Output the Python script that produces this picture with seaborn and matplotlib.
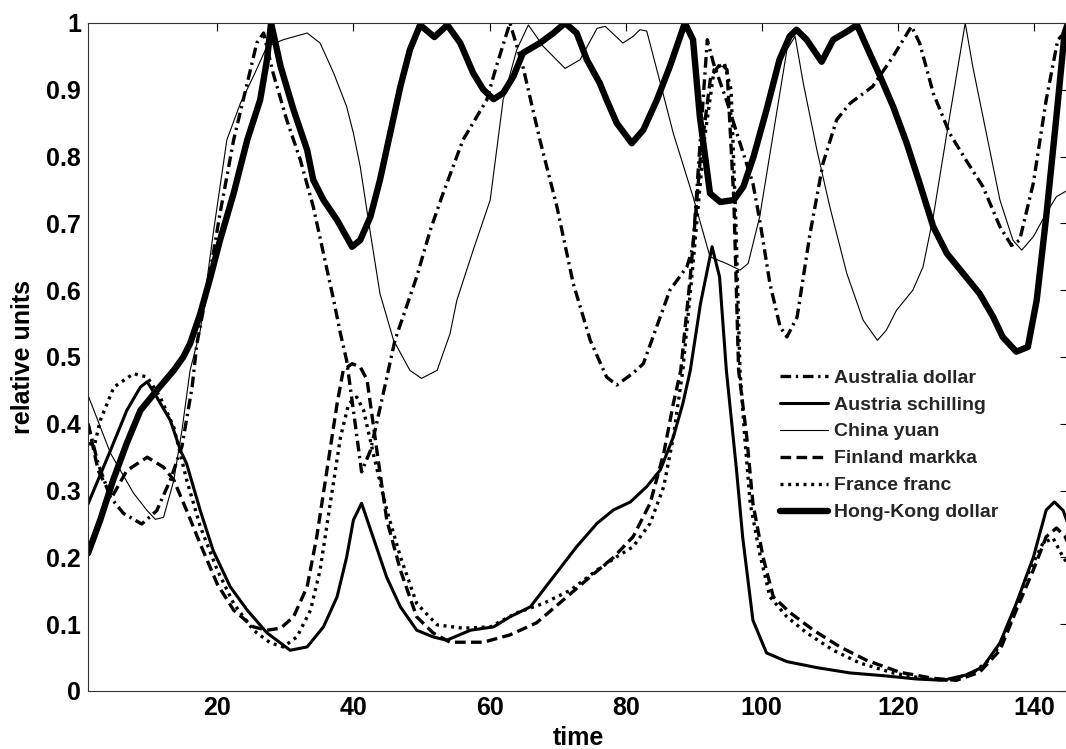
import matplotlib
matplotlib.use("Agg")
import matplotlib.pyplot as plt
import seaborn as sns
import pandas as pd

# ---------------- data ----------------
series_names = ["Australia dollar", "Austria schilling", "China yuan",
                "Finland markka", "France franc", "Hong-Kong dollar"]

aud_t = [1, 2.5, 4.3, 6.2, 8.9, 11.1, 13.1, 14.8, 16.3, 17, 18.5, 20.4, 22.4, 24.4, 25.8, 26.8,
         28.2, 30.2, 32.2, 34.1, 35.6, 37.1, 38.1, 39, 40, 41.2, 42.5, 43.4, 44.7, 46.1, 49.3, 51.3,
         53, 56.1, 59.6, 61, 63, 64.9, 67.4, 69.9, 72.3, 74.8, 77.2, 78.7, 81.1, 82.6, 86.5, 89,
         89.9, 90.8, 92, 92.9, 94.8, 96.5, 98.7, 99.7, 101.2, 102.7, 103.7, 105.2, 107.1, 109, 111,
         113, 116.3, 119.3, 122, 123.2, 125.2, 127.6, 130, 132.5, 135, 136.7, 137.9, 139.9, 141.8,
         143.5, 145]
aud_v = [0.40, 0.34, 0.29, 0.266, 0.25, 0.27, 0.316, 0.366, 0.455, 0.52, 0.60, 0.715, 0.825, 0.91,
         0.97, 0.985, 0.925, 0.855, 0.795, 0.725, 0.655, 0.585, 0.535, 0.495, 0.42, 0.328, 0.36,
         0.40, 0.46, 0.525, 0.62, 0.69, 0.74, 0.825, 0.885, 0.935, 1.0, 0.935, 0.825, 0.725, 0.61,
         0.525, 0.47, 0.458, 0.476, 0.49, 0.60, 0.635, 0.665, 0.80, 0.975, 0.94, 0.885, 0.83, 0.76,
         0.705, 0.61, 0.545, 0.53, 0.56, 0.685, 0.79, 0.855, 0.88, 0.905, 0.95, 0.995, 0.97, 0.895,
         0.835, 0.795, 0.755, 0.695, 0.667, 0.675, 0.76, 0.885, 0.975, 0.99]

ats_t = [1, 4.3, 6.7, 8.7, 9.7, 11.1, 13.1, 14.6, 15.5, 17.5, 19.4, 21.9, 24.4, 27.3, 30.7, 33.2,
         35.6, 37.6, 39, 40, 41.2, 42.9, 44.9, 46.9, 49.3, 51.7, 53.7, 57.2, 60.6, 63, 66, 69.4,
         72.8, 75.8, 78.2, 80.7, 83.1, 85.1, 87, 88.4, 89.5, 91, 92.7, 93.8, 94.8, 96.3, 97.2, 98.7,
         100.7, 103.7, 108.1, 113, 117.8, 122.7, 126.6, 130, 132.5, 135, 137.4, 139.9, 141.8, 143,
         144.3, 145]
ats_v = [0.28, 0.36, 0.42, 0.455, 0.463, 0.44, 0.405, 0.36, 0.34, 0.27, 0.21, 0.156, 0.121, 0.087,
         0.061, 0.066, 0.096, 0.141, 0.20, 0.256, 0.281, 0.23, 0.17, 0.126, 0.091, 0.081, 0.076,
         0.091, 0.096, 0.111, 0.126, 0.171, 0.216, 0.251, 0.271, 0.283, 0.306, 0.331, 0.38, 0.43,
         0.48, 0.58, 0.665, 0.62, 0.48, 0.33, 0.23, 0.106, 0.057, 0.044, 0.035, 0.027, 0.023, 0.018,
         0.016, 0.024, 0.036, 0.072, 0.131, 0.20, 0.271, 0.283, 0.27, 0.25]

cny_t = [1, 4.3, 7.7, 9.7, 10.9, 12.1, 13.6, 14.8, 16, 17.5, 19.4, 21.4, 23.4, 25.3, 27.3, 29.7,
         33.2, 35.1, 37.1, 39, 40, 41, 42.5, 43.9, 45.9, 48.3, 50, 52.3, 54.2, 55.2, 57.6, 60.1, 62,
         64, 65.7, 67.9, 71.1, 73.3, 75.8, 77, 79.6, 81.1, 82.1, 83.1, 85.1, 87, 89.9, 92.4, 94.8,
         96.8, 98, 99.7, 101.7, 103.7, 104.9, 106.1, 108.1, 110, 112.5, 114.9, 117, 118.3, 119.8,
         122.2, 123.7, 125.2, 127.2, 129, 129.9, 131, 133, 135, 136.9, 138.2, 139.9, 141.8, 143.3,
         145]
cny_v = [0.443, 0.356, 0.296, 0.27, 0.257, 0.26, 0.315, 0.39, 0.48, 0.54, 0.685, 0.825, 0.88, 0.92,
         0.965, 0.975, 0.985, 0.97, 0.925, 0.875, 0.835, 0.785, 0.685, 0.595, 0.525, 0.48, 0.468,
         0.48, 0.535, 0.585, 0.66, 0.735, 0.885, 0.96, 0.997, 0.965, 0.932, 0.945, 0.992, 0.995,
         0.97, 0.98, 0.99, 0.988, 0.91, 0.835, 0.74, 0.65, 0.64, 0.63, 0.64, 0.71, 0.835, 0.96,
         0.98, 0.91, 0.81, 0.725, 0.625, 0.555, 0.525, 0.54, 0.57, 0.60, 0.635, 0.71, 0.835, 0.945,
         1.0, 0.935, 0.835, 0.735, 0.675, 0.66, 0.68, 0.715, 0.74, 0.75]

fim_t = [1, 2.5, 4.5, 6.7, 9.7, 12.1, 13.6, 15.5, 17.5, 20, 22.4, 25.3, 27.3, 29.3, 31.2, 33.2,
         34.6, 36.1, 37.6, 38.5, 39.8, 41, 42, 43.5, 44.9, 46.9, 49.3, 51.7, 54.2, 59.1, 63, 66.9,
         70.8, 74.8, 78.2, 81.1, 83.6, 85.6, 87, 88.1, 89.5, 91, 92.5, 94, 94.9, 95.9, 96.6, 97.8,
         98.7, 100.2, 101.7, 104.2, 107.6, 111.5, 115.4, 120.3, 125.2, 128.6, 132, 135, 137.4,
         139.9, 141.8, 143.3, 144.6, 145]
fim_v = [0.40, 0.33, 0.29, 0.33, 0.35, 0.335, 0.316, 0.27, 0.22, 0.16, 0.121, 0.096, 0.091, 0.094,
         0.111, 0.156, 0.23, 0.33, 0.43, 0.48, 0.49, 0.485, 0.466, 0.356, 0.256, 0.181, 0.111, 0.087,
         0.073, 0.073, 0.084, 0.102, 0.136, 0.171, 0.20, 0.231, 0.281, 0.356, 0.43, 0.48, 0.62,
         0.80, 0.92, 0.94, 0.93, 0.735, 0.48, 0.38, 0.281, 0.20, 0.141, 0.117, 0.091, 0.066, 0.046,
         0.028, 0.019, 0.016, 0.028, 0.061, 0.121, 0.181, 0.231, 0.244, 0.231, 0.22]

frf_t = [1, 2, 2.8, 4.8, 7.7, 9.7, 11.6, 13.6, 15.5, 17.5, 20, 22.4, 25.3, 27.8, 29.7, 31.7, 33.7,
         35.1, 36.6, 38.1, 39.3, 40.5, 41.5, 42.9, 44.9, 46.9, 49.3, 52.3, 56.1, 60.1, 64, 67.9,
         71.9, 75.8, 78.7, 81.1, 83.6, 85.6, 87, 88.4, 90, 91.5, 93, 94.5, 95.5, 96.2, 96.8, 97.5,
         98.3, 99.7, 101.2, 103.7, 106.6, 110.5, 114.4, 119.3, 124.2, 127.6, 131, 134, 136.5,
         138.9, 141.3, 142.8, 144.3, 145]
frf_v = [0.37, 0.37, 0.405, 0.455, 0.475, 0.47, 0.44, 0.395, 0.316, 0.246, 0.181, 0.131, 0.091,
         0.072, 0.066, 0.081, 0.121, 0.181, 0.281, 0.38, 0.43, 0.44, 0.42, 0.356, 0.271, 0.201,
         0.131, 0.099, 0.094, 0.096, 0.117, 0.131, 0.151, 0.181, 0.201, 0.216, 0.251, 0.306, 0.38,
         0.48, 0.65, 0.82, 0.93, 0.94, 0.90, 0.70, 0.48, 0.38, 0.281, 0.206, 0.141, 0.111, 0.087,
         0.061, 0.042, 0.027, 0.018, 0.016, 0.027, 0.051, 0.101, 0.171, 0.221, 0.229, 0.20, 0.19]

hkd_t = [1, 2.8, 4.7, 6.7, 8.7, 11.1, 13.6, 15, 16, 17.5, 19, 20.4, 22.4, 24.4, 26.3, 27.3, 27.9,
         29.3, 31.2, 33.2, 34.1, 35.6, 37.6, 39.8, 41, 42.5, 43.9, 45.4, 46.9, 48.3, 49.8, 51.9,
         53.8, 55.7, 57.6, 59.1, 60.6, 62, 63.5, 64.9, 67.4, 69.4, 71.1, 72.8, 74.3, 76.2, 77.2,
         78.7, 80.9, 82.6, 84.6, 86.5, 88.7, 89.9, 90.9, 92.4, 93.9, 95.9, 97.3, 98.8, 100.7, 102.6,
         104.1, 105.1, 106.6, 108.8, 110.5, 112.5, 114, 115.4, 117.4, 119.3, 121.3, 123.2, 125.2,
         127.2, 129.6, 132, 134, 135.4, 137.4, 139.1, 140.4, 141.8, 143.3, 144.5, 145]
hkd_v = [0.206, 0.256, 0.316, 0.371, 0.42, 0.45, 0.48, 0.50, 0.52, 0.565, 0.62, 0.675, 0.745, 0.825,
         0.885, 0.945, 1.0, 0.935, 0.87, 0.81, 0.765, 0.735, 0.705, 0.665, 0.675, 0.71, 0.765,
         0.835, 0.905, 0.96, 0.997, 0.979, 0.997, 0.97, 0.925, 0.90, 0.886, 0.895, 0.92, 0.955,
         0.97, 0.985, 1.0, 0.985, 0.945, 0.91, 0.885, 0.85, 0.82, 0.84, 0.885, 0.935, 1.0, 0.975,
         0.86, 0.745, 0.732, 0.735, 0.755, 0.80, 0.87, 0.945, 0.98, 0.99, 0.975, 0.942, 0.975,
         0.987, 0.997, 0.965, 0.92, 0.875, 0.82, 0.76, 0.695, 0.655, 0.625, 0.595, 0.56, 0.53,
         0.508, 0.515, 0.585, 0.71, 0.86, 0.985, 1.0]

x_ticks = [20, 40, 60, 80, 100, 120, 140]
y_ticks = [0, 0.1, 0.2, 0.3, 0.4, 0.5, 0.6, 0.7, 0.8, 0.9, 1]
y_tick_labels = ["0", "0.1", "0.2", "0.3", "0.4", "0.5", "0.6", "0.7", "0.8", "0.9", "1"]

# ---------------- build table ----------------
frames = []
for name, t, v in zip(series_names,
                      [aud_t, ats_t, cny_t, fim_t, frf_t, hkd_t],
                      [aud_v, ats_v, cny_v, fim_v, frf_v, hkd_v]):
    assert len(t) == len(v), name
    frames.append(pd.DataFrame({"time": t, "value": v, "series": name}))
df = pd.concat(frames, ignore_index=True)

# ---------------- styling ----------------
sns.set_theme(style="white")
plt.rcParams["font.family"] = ["Liberation Sans", "DejaVu Sans"]
plt.rcParams["font.weight"] = "bold"

styles = {
    "Australia dollar": dict(lw=2.4, ls=(0, (3.2, 1.4, 0.7, 1.4))),
    "Austria schilling": dict(lw=2.2, ls="-"),
    "China yuan": dict(lw=0.8, ls="-"),
    "Finland markka": dict(lw=2.4, ls=(0, (3.2, 1.6))),
    "France franc": dict(lw=2.4, ls=(0, (0.9, 1.4))),
    "Hong-Kong dollar": dict(lw=4.6, ls="-"),
}

W, H = 1066, 749
fig = plt.figure(figsize=(W / 100, H / 100), dpi=100)
ax = fig.add_axes([88 / W, 58 / H, 980 / W, 668 / H])

for name in series_names:
    sub = df[df["series"] == name]
    st = styles[name]
    sns.lineplot(data=sub, x="time", y="value", ax=ax, color="black",
                 linewidth=st["lw"], linestyle=st["ls"], label=name,
                 estimator=None, sort=False, solid_joinstyle="round",
                 dash_capstyle="butt")

ax.set_xlim(1, 145)
ax.set_ylim(0, 1)
ax.set_xticks(x_ticks)
ax.set_xticklabels([str(x) for x in x_ticks])
ax.set_yticks(y_ticks)
ax.set_yticklabels(y_tick_labels)
ax.tick_params(direction="in", top=True, right=True, length=6, width=0.8,
               labelsize=18, colors="black")
ax.tick_params(axis="x", pad=3.5)
ax.tick_params(axis="y", pad=5)
for lab in ax.get_xticklabels() + ax.get_yticklabels():
    lab.set_fontweight("bold")
for sp in ax.spines.values():
    sp.set_color("#333333")
    sp.set_linewidth(0.8)

ax.set_xlabel("time", fontsize=18, fontweight="bold", labelpad=4.5, color="black")
ax.set_ylabel("relative units", fontsize=18, fontweight="bold", labelpad=8, color="black")

handles = ax.get_lines()
leg = ax.legend(handles, series_names, loc="upper left",
                bbox_to_anchor=(780 / W, 1 - 369 / H), bbox_transform=fig.transFigure,
                frameon=False, borderpad=0, borderaxespad=0,
                prop={"size": 14, "weight": "bold"},
                handlelength=2.45, handletextpad=0.35, labelspacing=0.48)

fig.savefig("out.png", dpi=100)
